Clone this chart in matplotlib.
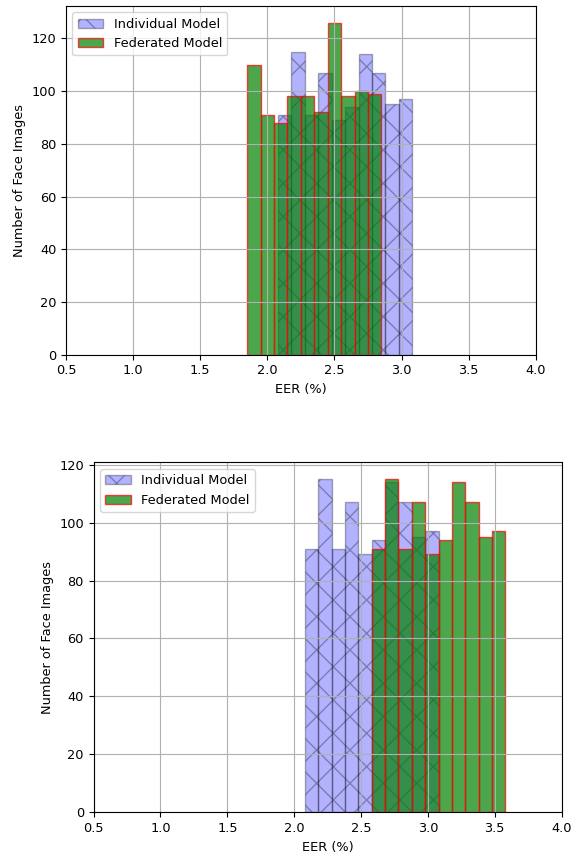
import numpy as np
import matplotlib
matplotlib.use("Agg")
import matplotlib.pyplot as plt

# bin counts (bin width 0.1 EER %)
bin_width = 0.1
indiv_start = 2.08
indiv_counts = [91, 115, 91, 107, 89, 94, 114, 107, 95, 97]

fed_start_top = 1.85
fed_counts_top = [110, 91, 88, 98, 98, 92, 126, 98, 100, 99]

fed_start_bottom = 2.58
fed_counts_bottom = [91, 115, 91, 107, 89, 94, 114, 107, 95, 97]

xticks = [0.5, 1.0, 1.5, 2.0, 2.5, 3.0, 3.5, 4.0]

plt.rcParams["font.size"] = 9.3


def draw(ax, fed_start, fed_counts):
    left_i = indiv_start + bin_width * np.arange(len(indiv_counts))
    left_f = fed_start + bin_width * np.arange(len(fed_counts))
    ax.bar(left_i, indiv_counts, width=bin_width, align="edge", color="blue",
           alpha=0.3, hatch="x", edgecolor="black", label="Individual Model")
    ax.bar(left_f, fed_counts, width=bin_width, align="edge", color="green",
           alpha=0.7, edgecolor="red", label="Federated Model")
    ax.set_xlim(0.5, 4.0)
    ax.set_ylim(0, max(max(indiv_counts), max(fed_counts)) * 1.05)
    ax.set_xticks(xticks)
    ax.set_xlabel("EER (%)")
    ax.set_ylabel("Number of Face Images")
    ax.grid(True)
    ax.legend(loc="upper left")


fig = plt.figure(figsize=(5.72, 8.55), dpi=100)
ax1 = fig.add_axes([66 / 572, 1 - 354.7 / 855, 469.7 / 572, 348.7 / 855])
ax2 = fig.add_axes([93.6 / 572, 1 - 812.3 / 855, 468 / 572, 349.8 / 855])

draw(ax1, fed_start_top, fed_counts_top)
draw(ax2, fed_start_bottom, fed_counts_bottom)

fig.savefig("out.png", dpi=100)
